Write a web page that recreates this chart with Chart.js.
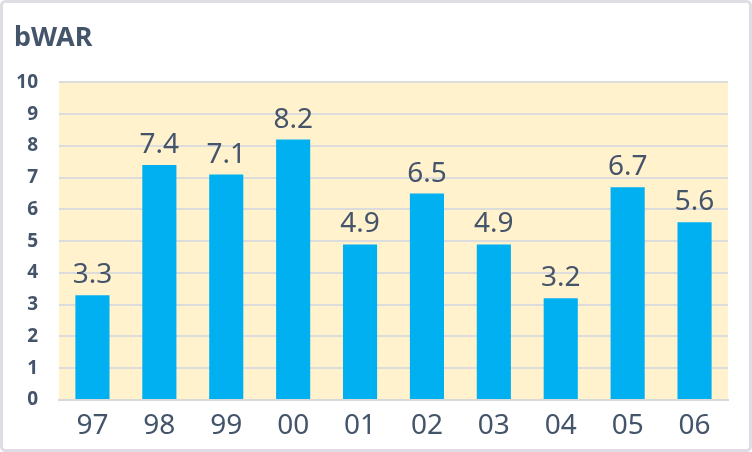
<!DOCTYPE html>
<html>
<head>
<meta charset="utf-8">
<script src="https://cdn.jsdelivr.net/npm/chart.js@4"></script>
<style>
  html, body { margin: 0; padding: 0; background: #fff; }
  #wrap { width: 752px; height: 452px; position: relative; }
</style>
</head>
<body>
<div id="wrap"><canvas id="grafico"></canvas></div>
<script>
    // datos
    const temporadas = ['97', '98', '99', '00', '01', '02', '03', '04', '05', '06'];
    const bwar = [3.3, 7.4, 7.1, 8.2, 4.9, 6.5, 4.9, 3.2, 6.7, 5.6];
    const marcasY = [0, 1, 2, 3, 4, 5, 6, 7, 8, 9, 10];

    const colorTexto = '#44546A';
    const fuente = '"Noto Sans", "Open Sans", sans-serif';

    // fondo amarillo del area y borde exterior
    const fondo = {
        id: 'fondo',
        beforeDraw(chart) {
            const { ctx, chartArea: a } = chart;
            ctx.save();
            ctx.fillStyle = '#fff';
            ctx.fillRect(0, 0, chart.width, chart.height);
            ctx.strokeStyle = '#DDDDE3';
            ctx.lineWidth = 3;
            ctx.beginPath();
            ctx.roundRect(1.5, 1.5, chart.width - 3, chart.height - 3, 4);
            ctx.stroke();
            ctx.fillStyle = '#FFF2CC';
            ctx.fillRect(a.left, a.top, a.right - a.left, a.bottom - a.top);
            ctx.restore();
        }
    };

    // etiquetas de valor sobre cada barra
    const etiquetas = {
        id: 'etiquetas',
        afterDatasetsDraw(chart) {
            const { ctx } = chart;
            const meta = chart.getDatasetMeta(0);
            ctx.save();
            ctx.fillStyle = colorTexto;
            ctx.font = '28px ' + fuente;
            ctx.textAlign = 'center';
            ctx.textBaseline = 'alphabetic';
            meta.data.forEach((bar, i) => {
                ctx.fillText(bwar[i].toFixed(1), bar.x, bar.y - 12);
            });
            ctx.restore();
        }
    };

    new Chart(document.getElementById('grafico'), {
        type: 'bar',
        data: {
            labels: temporadas,
            datasets: [{
                label: 'bWAR',
                data: bwar,
                backgroundColor: '#00B0F0',
                barPercentage: 0.51,
                categoryPercentage: 1
            }]
        },
        options: {
            responsive: true,
            maintainAspectRatio: false,
            animation: false,
            devicePixelRatio: 1,
            layout: { padding: { left: 14, right: 24, bottom: 0 } },
            plugins: {
                legend: { display: false },
                tooltip: { enabled: false },
                title: {
                    display: true,
                    text: 'bWAR',
                    align: 'start',
                    color: colorTexto,
                    font: { family: fuente, size: 27, weight: 'bold' },
                    padding: { top: 22, bottom: 28 }
                }
            },
            scales: {
                x: {
                    afterFit(scale) { scale.height = 52; },
                    grid: { display: false },
                    border: { display: true, color: '#D9D9D9', width: 2 },
                    ticks: {
                        color: colorTexto,
                        padding: 1,
                        font: { family: fuente, size: 28 }
                    }
                },
                y: {
                    min: 0,
                    max: 10,
                    afterFit(scale) { scale.width = 45; },
                    afterBuildTicks(scale) { scale.ticks = marcasY.map(v => ({ value: v })); },
                    grid: { color: '#DCDCDC', lineWidth: 2, drawTicks: false },
                    border: { display: false },
                    ticks: {
                        color: colorTexto,
                        padding: 21,
                        font: { family: fuente, size: 19, weight: 'bold' }
                    }
                }
            }
        },
        plugins: [fondo, etiquetas]
    });
</script>
</body>
</html>
